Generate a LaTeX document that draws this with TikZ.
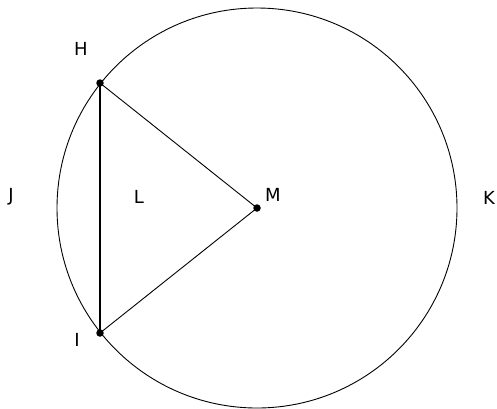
\documentclass[tikz,border=0pt]{standalone}
\usepackage{fontspec}
\setmainfont{DejaVu Sans}
\begin{document}
\begin{tikzpicture}[x=1pt,y=-1pt,
  pt/.style={circle,fill=black,inner sep=0pt,minimum size=7.5pt},
  lab/.style={font=\fontsize{18}{20}\selectfont,inner sep=0pt},
  edge/.style={line width=0.9pt}]
\useasboundingbox (0,0) rectangle (497,408);
\coordinate (Mc) at (257,208);
\draw[edge] (Mc) circle (200);
\node[pt] (H) at (100,83) {};
\node[pt] (I) at (100,333) {};
\node[pt] (M) at (257,208) {};
\draw[line width=1.3pt] (H.center) -- (I.center);
\draw[edge] (H.center) -- (M.center) -- (I.center);
\node[lab] (tH) at (81,49) {H};
\node[lab] (tI) at (77,340) {I};
\node[lab] (tJ) at (11,197) {J};
\node[lab] (tK) at (489,198) {K};
\node[lab] (tL) at (139,197) {L};
\node[lab] (tM) at (273,195) {M};
\end{tikzpicture}
\end{document}
